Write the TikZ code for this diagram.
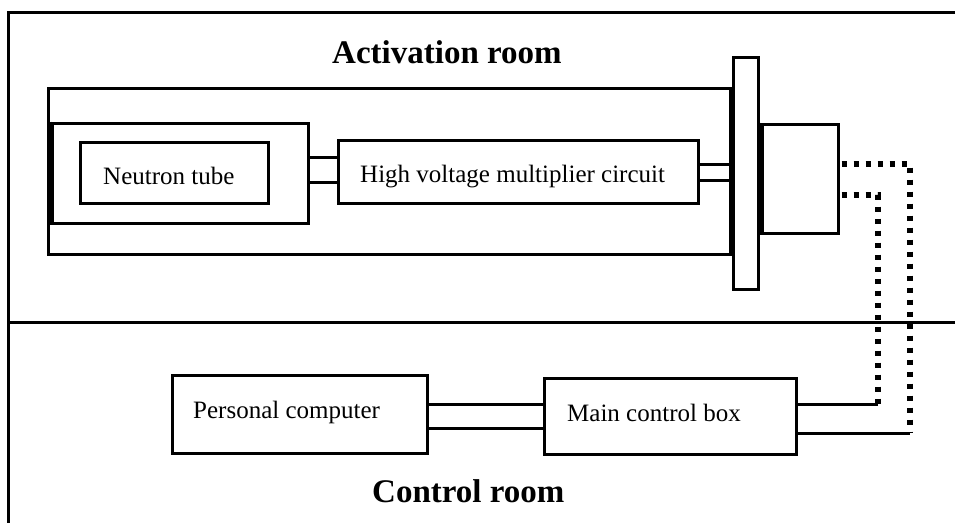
\documentclass[tikz,border=0pt]{standalone}
\usepackage{fontspec}
\setmainfont{Liberation Serif}
\begin{document}
\begin{tikzpicture}[x=1pt,y=-1pt,
  box/.style={draw,line width=3pt,inner sep=0pt,minimum width=#1},
  wire/.style={line width=3pt},
  dotwire/.style={line width=5.5pt,dash pattern=on 5pt off 7pt},
  lbl/.style={font=\fontsize{25}{30}\selectfont,anchor=base west,inner sep=0pt},
  ttl/.style={font=\fontsize{33}{38}\selectfont\bfseries,anchor=base west,inner sep=0pt}]
\useasboundingbox (0,0) rectangle (955,523);
% frame
\draw[wire] (955,12) -- (8,12) -- (8,523);
\draw[wire] (8,322) -- (955,322);
% boxes
\node[box=682,minimum height=166] (housing) at (389,171) {};
\node[box=256,minimum height=100] (inner) at (180.5,173) {};
\node[box=188,minimum height=61] (nt) at (174,172.5) {};
\node[box=360,minimum height=63] (hv) at (518,171.5) {};
\node[box=25,minimum height=232,fill=white] (flange) at (745.5,173) {};
\node[box=76,minimum height=109] (conn) at (800,178.5) {};
\node[box=255,minimum height=78] (pc) at (299.5,414) {};
\node[box=252,minimum height=76] (mcb) at (670,416) {};
% thick joints
\draw[line width=3.5pt] (housing.north east) -- (housing.south east);
\draw[line width=4.5pt] ([xshift=-1.5pt]conn.north west) -- ([xshift=-1.5pt]conn.south west);
\draw[line width=4.5pt] ([xshift=-1.5pt]inner.north west) -- ([xshift=-1.5pt]inner.south west);
% texts
\node[lbl] (tnt) at (103,184) {Neutron tube};
\node[lbl] (thv) at (360,182) {High voltage multiplier circuit};
\node[lbl] (tpc) at (193,418) {Personal computer};
\node[lbl] (tmcb) at (567,421) {Main control box};
\node[ttl] (tact) at (332,63) {Activation room};
\node[ttl] (tctl) at (372,502) {Control room};
% connectors
\draw[wire] (inner.east |- 0,157) -- (hv.west |- 0,157);
\draw[wire] (inner.east |- 0,182) -- (hv.west |- 0,182);
\draw[wire] (hv.east |- 0,164) -- (housing.east |- 0,164);
\draw[wire] (hv.east |- 0,180) -- (housing.east |- 0,180);
\draw[wire] (pc.east |- 0,404) -- (mcb.west |- 0,404);
\draw[wire] (pc.east |- 0,428) -- (mcb.west |- 0,428);
\coordinate (ca) at (878,404);
\coordinate (cb) at (910,433);
\draw[wire] (mcb.east |- ca) -- (ca);
\draw[wire] (mcb.east |- cb) -- (cb);
\draw[dotwire] ([xshift=2pt]conn.east |- 0,195) -- (ca |- 0,195) -- (ca);
\draw[dotwire] ([xshift=2pt]conn.east |- 0,164) -- (cb |- 0,164) -- (cb);
\end{tikzpicture}
\end{document}
